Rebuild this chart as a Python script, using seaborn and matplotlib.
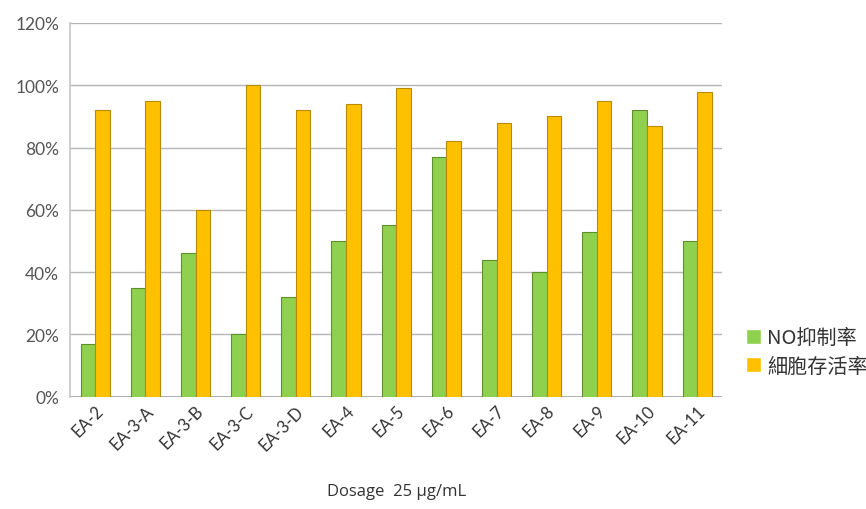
import matplotlib
matplotlib.use("Agg")
import matplotlib.pyplot as plt
import seaborn as sns
import pandas as pd
from matplotlib.ticker import PercentFormatter

samples = ["EA-2", "EA-3-A", "EA-3-B", "EA-3-C", "EA-3-D", "EA-4", "EA-5",
           "EA-6", "EA-7", "EA-8", "EA-9", "EA-10", "EA-11"]
no_inhibition = [17, 35, 46, 20, 32, 50, 55, 77, 44, 40, 53, 92, 50]
cell_viability = [92, 95, 60, 100, 92, 94, 99, 82, 88, 90, 95, 87, 98]
series_names = ["NO抑制率", "細胞存活率"]

df = pd.DataFrame({
    "sample": samples * 2,
    "value": no_inhibition + cell_viability,
    "series": [series_names[0]] * len(samples) + [series_names[1]] * len(samples),
})

sns.set_theme(style="white")
plt.rcParams["font.family"] = ["Lato", "Noto Sans CJK TC", "DejaVu Sans"]

fig = plt.figure(figsize=(8.66, 5.10), dpi=100)
ax = fig.add_axes([0.081, 0.22, 0.753, 0.733])

palette = {series_names[0]: "#8fd14f", series_names[1]: "#ffc000"}
sns.barplot(data=df, x="sample", y="value", hue="series", palette=palette,
            width=0.58, gap=0.0, saturation=1, ax=ax, legend=True)

edge = {series_names[0]: "#5e8f2c", series_names[1]: "#b88a00"}
for cont, name in zip(ax.containers, series_names):
    for bar in cont:
        bar.set_edgecolor(edge[name])
        bar.set_linewidth(0.8)

ax.set_ylim(0, 120)
ax.set_yticks(range(0, 121, 20))
ax.yaxis.set_major_formatter(PercentFormatter(decimals=0))
ax.set_xlim(-0.5, len(samples) - 0.5)
ax.grid(axis="y", color="#b5b5b5", linewidth=1)
ax.set_axisbelow(True)
for s in ["top", "right", "bottom"]:
    ax.spines[s].set_visible(False)
ax.spines["left"].set_color("#c8c8c8")
ax.axhline(0, color="#a0a0a0", linewidth=1.2, zorder=0.5)

ax.tick_params(axis="y", labelsize=12.5, labelcolor="#555555", length=0, pad=8)
ax.tick_params(axis="x", labelsize=12, labelcolor="#333333", length=0, pad=4)
plt.setp(ax.get_xticklabels(), rotation=45, ha="right", rotation_mode="anchor")

ax.set_ylabel("")
ax.set_xlabel("Dosage  25 μg/mL", fontsize=12, color="#333333", labelpad=22,
              family=["Open Sans", "DejaVu Sans"])

leg = ax.legend(loc="center left", bbox_to_anchor=(1.024, 0.12), frameon=False,
                fontsize=14.5, handlelength=0.75, handleheight=0.75,
                handletextpad=0.3, labelspacing=0.35, borderaxespad=0)
for t in leg.get_texts():
    t.set_family(["Noto Sans CJK TC", "DejaVu Sans"])
    t.set_color("#333333")

fig.savefig("out.png", dpi=100, facecolor="white")
